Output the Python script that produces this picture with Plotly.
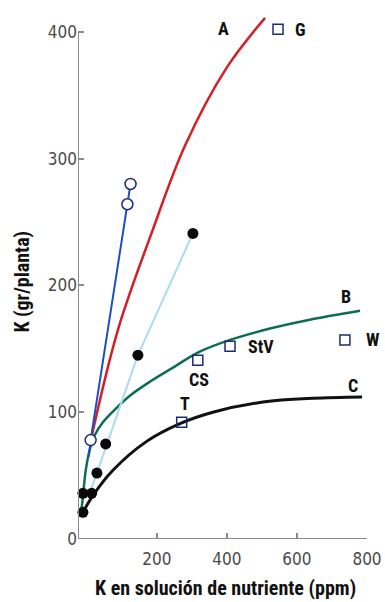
import plotly.graph_objects as go

# ---- data ----
# Curve A (red)
a_x = [14, 89, 186, 280, 400, 509]
a_y = [81, 165, 242, 310, 372, 411]
# Curve B (green)
b_x = [-17, -11, -3, 9, 23, 46, 80, 123, 180, 251, 317, 409, 523, 637, 780]
b_y = [19, 33, 54, 71, 82, 92, 102, 113, 124, 136, 147, 157, 166, 173, 180]
# Curve C (black)
c_x = [-11, 17, 74, 171, 266, 360, 503, 646, 786]
c_y = [21, 34, 54, 77, 91, 100, 108, 111, 112]
# Blue line with open circles
blue_line_x = [6, 11, 116, 125]
blue_line_y = [65, 78, 264, 280]
open_x = [11, 116, 125]
open_y = [78, 264, 280]
# Light-blue line with filled circles
lb_x = [5, 146, 303]
lb_y = [33, 145, 241]
dots_x = [-11, -11, 14, 29, 54, 146, 303]
dots_y = [21, 36, 36, 52, 75, 145, 241]
# Open squares (crops)
sq_names = ["G", "CS", "StV", "W", "T"]
sq_x = [546, 317, 409, 737, 271]
sq_y = [402, 141, 152, 157, 92]

# Labels
lbl_text = ["A", "G", "B", "C", "W", "StV", "CS", "T"]
lbl_x = [391, 609, 740, 760, 790, 454, 320, 280]
lbl_y = [403, 402, 191, 121, 157, 152, 126, 107]
lbl_anchor = ["center", "center", "center", "center", "left", "left", "center", "center"]

x_ticks = [200, 400, 600, 800]
y_ticks = [0, 100, 200, 300, 400]

x_title = "K en solución de nutriente (ppm)"
y_title = "K (gr/planta)"

BOLD = "Roboto Condensed, Liberation Sans Narrow, DejaVu Sans Condensed, Arial Narrow, sans-serif"
TICKF = "Liberation Sans Narrow, DejaVu Sans Condensed, Arial Narrow, sans-serif"
NAVY = "#1f2a72"
GRAY = "#8c8c8c"

fig = go.Figure()
fig.add_trace(go.Scatter(x=a_x, y=a_y, mode="lines",
                         line=dict(color="#d41f26", width=2.5, shape="spline", smoothing=1),
                         hoverinfo="skip"))
fig.add_trace(go.Scatter(x=b_x, y=b_y, mode="lines",
                         line=dict(color="#0d6e55", width=2.5, shape="spline", smoothing=1),
                         hoverinfo="skip"))
fig.add_trace(go.Scatter(x=c_x, y=c_y, mode="lines",
                         line=dict(color="#111111", width=3, shape="spline", smoothing=1),
                         hoverinfo="skip"))
fig.add_trace(go.Scatter(x=lb_x, y=lb_y, mode="lines",
                         line=dict(color="#a9dcef", width=2), hoverinfo="skip"))
fig.add_trace(go.Scatter(x=blue_line_x, y=blue_line_y, mode="lines",
                         line=dict(color="#1d4fc4", width=2), hoverinfo="skip"))
fig.add_trace(go.Scatter(x=dots_x, y=dots_y, mode="markers",
                         marker=dict(color="#0a0a0a", size=11, line=dict(width=0)),
                         cliponaxis=False))
fig.add_trace(go.Scatter(x=open_x, y=open_y, mode="markers",
                         marker=dict(color="white", size=11, line=dict(color=NAVY, width=1.5)),
                         cliponaxis=False))
fig.add_trace(go.Scatter(x=sq_x, y=sq_y, mode="markers", marker_symbol="square-open",
                         marker=dict(color=NAVY, size=10, line=dict(color=NAVY, width=1.5)),
                         cliponaxis=False))

for t, x, y, anc in zip(lbl_text, lbl_x, lbl_y, lbl_anchor):
    fig.add_annotation(x=x, y=y, text="<b>%s</b>" % t, showarrow=False, xanchor=anc,
                       font=dict(family=BOLD, size=18, color="#111111"))

# axis titles as annotations (precise placement)
fig.add_annotation(xref="x", yref="paper", x=395, y=0, yshift=-49, yanchor="middle",
                   text="<b>%s</b>" % x_title, showarrow=False,
                   font=dict(family=BOLD, size=20, color="#111111"))
fig.add_annotation(xref="paper", yref="y", x=0, xshift=-56, y=203, xanchor="center",
                   textangle=-90, text="<b>%s</b>" % y_title, showarrow=False,
                   font=dict(family=BOLD, size=20, color="#111111"))

# axis lines
fig.add_shape(type="line", xref="x", yref="y", x0=-25, x1=-25, y0=0, y1=400,
              line=dict(color=GRAY, width=2))
fig.add_shape(type="line", xref="x", yref="y", x0=-25, x1=800, y0=0, y1=0,
              line=dict(color=GRAY, width=2))

fig.update_layout(
    width=385, height=602,
    margin=dict(l=78, r=18, t=9, b=63, autoexpand=False),
    paper_bgcolor="white", plot_bgcolor="white",
    showlegend=False,
    xaxis=dict(range=[-25, 800], tickvals=x_ticks, ticktext=[str(v) for v in x_ticks],
               ticks="inside", ticklen=6, tickwidth=1.5, tickcolor=GRAY, automargin=False,
               showgrid=False, zeroline=False, showline=False, ticklabelstandoff=8,
               tickfont=dict(family=TICKF, size=17, color="#4a4a4a")),
    yaxis=dict(range=[0, 418], tickvals=y_ticks, ticktext=[str(v) for v in y_ticks],
               ticks="inside", ticklen=6, tickwidth=1.5, tickcolor=GRAY, automargin=False,
               showgrid=False, zeroline=False, showline=False,
               tickfont=dict(family=TICKF, size=17, color="#4a4a4a")),
)

fig.write_html("out.html")
